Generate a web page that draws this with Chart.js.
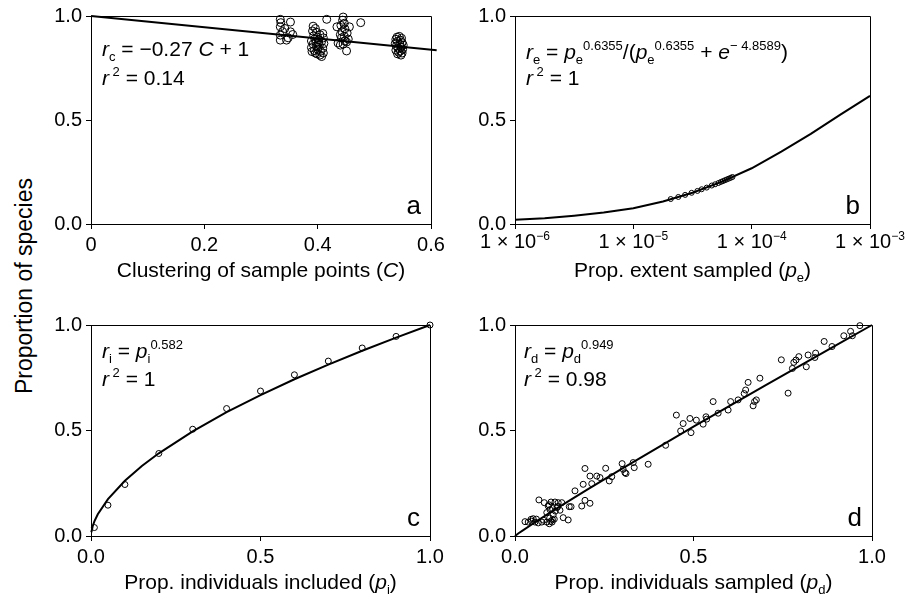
<!DOCTYPE html>
<html><head><meta charset="utf-8">
<script src="https://cdn.jsdelivr.net/npm/chart.js@4.4.1/dist/chart.umd.min.js"></script>
<style>
html,body{margin:0;padding:0;background:#fff;width:907px;height:607px;overflow:hidden;}
canvas{position:absolute;display:block;}
#ytitle{position:absolute;left:24px;top:286px;transform:translate(-50%,-50%) rotate(-90deg);font:23px "Liberation Sans",Arial,Helvetica,sans-serif;white-space:nowrap;color:#000;}
</style></head><body>
<canvas id="ca" width="420" height="300" style="left:40px;top:0px"></canvas>
<canvas id="cb" width="447" height="300" style="left:460px;top:0px"></canvas>
<canvas id="cc" width="420" height="307" style="left:40px;top:300px"></canvas>
<canvas id="cd" width="447" height="307" style="left:460px;top:300px"></canvas>
<div id="ytitle">Proportion of species</div>
<script>
// ---------- tick labels ----------
const yTicks = [0, 0.5, 1];
const aTicks = [0, 0.2, 0.4, 0.6];
const bTicks = [1e-6, 1e-5, 1e-4, 1e-3];
const bTickExp = ['−6', '−5', '−4', '−3'];
const cdTicks = [0, 0.5, 1];

// ---------- panel a: clustering ----------
const aClust = [0.334,0.335,0.352,0.334,0.342,0.352,0.356,0.334,0.334,0.345,0.348,0.338,
 0.392,0.396,0.391,0.398,0.409,0.404,0.393,0.400,0.410,0.395,0.402,0.389,0.407,0.397,0.411,0.392,0.403,0.398,0.389,0.409,0.400,0.394,0.405,0.390,0.410,0.399,0.404,0.407,0.396,0.401,
 0.416,0.476,0.445,0.444,0.447,0.434,0.456,0.441,0.448,0.443,0.452,0.440,0.447,0.454,0.442,0.448,0.436,0.445,0.451,0.451,0.440,
 0.540,0.544,0.548,0.538,0.546,0.541,0.549,0.537,0.545,0.551,0.539,0.547,0.542,0.550,0.538,0.546,0.543,0.549,0.541,0.547];
const aProp = [0.984,0.968,0.971,0.948,0.940,0.924,0.911,0.908,0.884,0.884,0.895,0.925,
 0.951,0.940,0.928,0.922,0.916,0.910,0.905,0.898,0.895,0.890,0.885,0.880,0.878,0.872,0.868,0.865,0.860,0.853,0.848,0.845,0.840,0.834,0.830,0.829,0.822,0.818,0.812,0.805,0.822,0.870,
 0.984,0.968,0.995,0.980,0.965,0.948,0.948,0.955,0.938,0.925,0.918,0.910,0.902,0.889,0.895,0.880,0.870,0.865,0.875,0.832,0.860,
 0.898,0.902,0.893,0.888,0.884,0.878,0.872,0.868,0.864,0.860,0.856,0.850,0.845,0.840,0.836,0.832,0.826,0.822,0.818,0.812];
const aLineC = [0, 0.61];
const aLineR = [1, 0.835];

// ---------- panel b: extent ----------
const bExtent = [2.07e-5,2.40e-5,2.74e-5,3.11e-5,3.48e-5,3.78e-5,4.17e-5,4.60e-5,4.91e-5,5.24e-5,5.48e-5,5.70e-5,5.92e-5,6.15e-5,6.40e-5,6.65e-5,6.88e-5];
const bProp = [0.120,0.130,0.140,0.150,0.159,0.167,0.175,0.185,0.191,0.197,0.202,0.206,0.210,0.214,0.218,0.222,0.226];
const bCurveP = [1e-6,1.78e-6,3.16e-6,5.62e-6,1e-5,1.78e-5,3.16e-5,5.62e-5,1e-4,1.78e-4,3.16e-4,5.62e-4,1e-3];
const bCurveR = [0.020,0.028,0.040,0.055,0.076,0.108,0.150,0.204,0.268,0.348,0.433,0.526,0.616];

// ---------- panel c: individuals included ----------
const cIncl = [0.01,0.05,0.1,0.2,0.3,0.4,0.5,0.6,0.7,0.8,0.9,1.0];
const cProp = [0.040,0.146,0.244,0.391,0.506,0.604,0.687,0.764,0.829,0.891,0.946,1.0];
const cCurveP = [0.001,0.005,0.01,0.02,0.05,0.1,0.15,0.2,0.3,0.4,0.5,0.6,0.7,0.8,0.9,1.0];
const cCurveR = [0.018,0.046,0.069,0.103,0.175,0.262,0.332,0.392,0.496,0.587,0.668,0.743,0.812,0.878,0.940,1.0];

// ---------- panel d: individuals sampled ----------
const dPoints = [
 [0.028,0.068],[0.037,0.066],[0.045,0.079],[0.046,0.070],[0.051,0.082],[0.056,0.066],[0.060,0.080],[0.065,0.062],[0.075,0.066],[0.080,0.075],
 [0.089,0.066],[0.096,0.058],[0.097,0.085],[0.100,0.070],[0.104,0.066],[0.105,0.077],[0.110,0.080],[0.107,0.100],[0.089,0.111],[0.113,0.118],
 [0.126,0.122],[0.135,0.087],[0.149,0.076],[0.093,0.142],[0.098,0.125],[0.105,0.130],[0.095,0.148],[0.118,0.135],[0.120,0.140],[0.067,0.171],
 [0.082,0.158],[0.101,0.161],[0.112,0.161],[0.121,0.158],[0.131,0.158],[0.152,0.139],[0.157,0.139],[0.187,0.142],[0.196,0.169],[0.210,0.155],
 [0.168,0.214],[0.191,0.245],[0.215,0.248],[0.196,0.320],[0.210,0.284],[0.229,0.284],[0.238,0.277],[0.254,0.321],[0.264,0.261],[0.271,0.281],
 [0.300,0.343],[0.303,0.316],[0.308,0.300],[0.311,0.296],[0.331,0.348],[0.334,0.324],[0.373,0.340],[0.422,0.430],
 [0.452,0.573],[0.471,0.533],[0.464,0.498],[0.490,0.557],[0.493,0.490],[0.508,0.549],[0.527,0.530],[0.535,0.565],[0.537,0.554],[0.555,0.637],
 [0.569,0.582],[0.597,0.597],[0.604,0.637],[0.625,0.645],[0.642,0.675],[0.646,0.692],[0.653,0.728],[0.667,0.617],[0.671,0.637],[0.676,0.645],
 [0.686,0.748],[0.746,0.835],[0.765,0.677],[0.777,0.794],[0.781,0.823],[0.787,0.834],[0.795,0.850],[0.816,0.802],[0.821,0.858],[0.840,0.846],
 [0.842,0.867],[0.866,0.922],[0.888,0.898],[0.921,0.949],[0.940,0.970],[0.945,0.949],[0.966,0.997]];
const dCurveP = [0,0.01,0.02,0.05,0.1,0.2,0.3,0.4,0.5,0.6,0.7,0.8,0.9,1.0];
const dCurveR = [0,0.013,0.024,0.058,0.113,0.217,0.319,0.419,0.518,0.616,0.713,0.809,0.905,1.0];

// ---------- drawing helpers ----------
const FONT = '"Liberation Sans", Arial, Helvetica, sans-serif';
const zip = (xs, ys) => xs.map((x, i) => ({x: x, y: ys[i]}));

function drawRuns(ctx, runs, x, y, base, align) {
  const parts = runs.map(r => {
    const size = (r.sub || r.sup) ? Math.round(base * 0.6) : base;
    const font = (r.i ? 'italic ' : '') + size + 'px ' + FONT;
    ctx.font = font;
    return {t: r.t, font: font, w: ctx.measureText(r.t).width,
            dy: r.sub ? base * 0.24 : (r.sup ? -base * 0.42 : 0)};
  });
  const total = parts.reduce((s, p) => s + p.w, 0);
  let cx = align === 'center' ? x - total / 2 : x;
  ctx.textAlign = 'left';
  ctx.textBaseline = 'alphabetic';
  parts.forEach(p => { ctx.font = p.font; ctx.fillText(p.t, cx, y + p.dy); cx += p.w; });
}

const annot = {
  id: 'annot',
  afterDraw(chart, args, o) {
    const ctx = chart.ctx, ca = chart.chartArea;
    ctx.save();
    ctx.strokeStyle = '#000'; ctx.lineWidth = 1;
    const L = Math.floor(ca.left) + 0.5, T = Math.floor(ca.top) + 0.5,
          R = Math.floor(ca.right) + 0.5, B = Math.floor(ca.bottom) + 0.5;
    ctx.beginPath(); ctx.moveTo(L, T); ctx.lineTo(R, T); ctx.lineTo(R, B); ctx.stroke();
    ctx.fillStyle = '#000';
    drawRuns(ctx, o.eq1, ca.left + o.ex, ca.top + o.ey1, 21, 'left');
    drawRuns(ctx, o.eq2, ca.left + o.ex, ca.top + o.ey2, 21, 'left');
    ctx.font = '26px ' + FONT; ctx.textAlign = 'right'; ctx.textBaseline = 'alphabetic';
    ctx.fillText(o.letter, ca.right - 10, ca.bottom - 10);
    drawRuns(ctx, o.xtitle, (ca.left + ca.right) / 2, ca.bottom + 53, 21, 'center');
    if (o.logTicks) {
      const xs = chart.scales.x;
      bTicks.forEach((v, i) => drawRuns(ctx, [{t: '1 × 10'}, {t: bTickExp[i], sup: 1}],
        xs.getPixelForValue(v), ca.bottom + 24, 20, 'center'));
    }
    ctx.restore();
  }
};

function axisCommon() {
  return {
    grid: {display: true, drawOnChartArea: false, drawTicks: true, tickLength: 5, color: '#000', lineWidth: 1},
    border: {display: true, color: '#000', width: 1}
  };
}

function makeChart(id, p) {
  const x = Object.assign(axisCommon(), {
    type: p.xType, min: p.xmin, max: p.xmax, position: 'bottom',
    afterBuildTicks: s => { s.ticks = p.xTicks.map(v => ({value: v})); },
    afterFit: s => { s.height = p.xh; },
    ticks: {display: p.xLabels, color: '#000', font: {family: FONT, size: 20}, padding: 4,
            maxRotation: 0, autoSkip: false, callback: p.xFmt}
  });
  const y = Object.assign(axisCommon(), {
    type: 'linear', min: 0, max: 1, position: 'left',
    afterBuildTicks: s => { s.ticks = yTicks.map(v => ({value: v})); },
    afterFit: s => { s.width = p.yw; },
    ticks: {color: '#000', font: {family: FONT, size: 20}, padding: 4, callback: v => v.toFixed(1)}
  });
  return new Chart(document.getElementById(id), {
    type: 'scatter',
    data: {datasets: [
      {data: p.curve, showLine: true, borderColor: '#000', borderWidth: 2, pointRadius: 0,
       fill: false, tension: 0, clip: false, order: 1},
      {data: p.points, showLine: false, pointStyle: 'circle', pointRadius: p.r,
       pointBorderColor: '#000', pointBorderWidth: 1, pointBackgroundColor: 'rgba(255,255,255,0)',
       clip: false, order: 2}
    ]},
    options: {
      responsive: false, animation: false, devicePixelRatio: 1,
      layout: {padding: {top: p.pt, right: p.pr, left: 0, bottom: 0}},
      scales: {x: x, y: y},
      plugins: {legend: {display: false}, tooltip: {enabled: false}, annot: p.annot}
    },
    plugins: [annot]
  });
}

makeChart('ca', {
  xType: 'linear', xmin: 0, xmax: 0.6, xTicks: aTicks, xLabels: true,
  xFmt: v => v === 0 ? '0' : v.toFixed(1), xh: 76, yw: 51, pt: 14, pr: 29, r: 4,
  curve: zip(aLineC, aLineR), points: zip(aClust, aProp),
  annot: {ex: 11, ey1: 40, ey2: 69, letter: 'a',
    eq1: [{t: 'r', i: 1}, {t: 'c', sub: 1}, {t: ' = −0.27 '}, {t: 'C', i: 1}, {t: ' + 1'}],
    eq2: [{t: 'r', i: 1}, {t: ' 2', sup: 1}, {t: ' = 0.14'}],
    xtitle: [{t: 'Clustering of sample points ('}, {t: 'C', i: 1}, {t: ')'}]}
});

makeChart('cb', {
  xType: 'logarithmic', xmin: 1e-6, xmax: 1e-3, xTicks: bTicks, xLabels: false,
  xFmt: v => '', xh: 76, yw: 55, pt: 14, pr: 37, r: 2.5,
  curve: zip(bCurveP, bCurveR), points: zip(bExtent, bProp),
  annot: {ex: 11, ey1: 43, ey2: 69, letter: 'b', logTicks: true,
    eq1: [{t: 'r', i: 1}, {t: 'e', sub: 1}, {t: ' = '}, {t: 'p', i: 1}, {t: 'e', sub: 1}, {t: '0.6355', sup: 1},
          {t: '/('}, {t: 'p', i: 1}, {t: 'e', sub: 1}, {t: '0.6355', sup: 1}, {t: ' + '}, {t: 'e', i: 1},
          {t: '− 4.8589', sup: 1}, {t: ')'}],
    eq2: [{t: 'r', i: 1}, {t: ' 2', sup: 1}, {t: ' = 1'}],
    xtitle: [{t: 'Prop. extent sampled ('}, {t: 'p', i: 1}, {t: 'e', sub: 1}, {t: ')'}]}
});

makeChart('cc', {
  xType: 'linear', xmin: 0, xmax: 1, xTicks: cdTicks, xLabels: true,
  xFmt: v => v.toFixed(1), xh: 71, yw: 51, pt: 25, pr: 30, r: 3,
  curve: zip(cCurveP, cCurveR), points: zip(cIncl, cProp),
  annot: {ex: 11, ey1: 33, ey2: 61, letter: 'c',
    eq1: [{t: 'r', i: 1}, {t: 'i', sub: 1}, {t: ' = '}, {t: 'p', i: 1}, {t: 'i', sub: 1}, {t: '0.582', sup: 1}],
    eq2: [{t: 'r', i: 1}, {t: ' 2', sup: 1}, {t: ' = 1'}],
    xtitle: [{t: 'Prop. individuals included ('}, {t: 'p', i: 1}, {t: 'i', sub: 1}, {t: ')'}]}
});

makeChart('cd', {
  xType: 'linear', xmin: 0, xmax: 1, xTicks: cdTicks, xLabels: true,
  xFmt: v => v.toFixed(1), xh: 71, yw: 55, pt: 25, pr: 35, r: 3,
  curve: zip(dCurveP, dCurveR), points: dPoints.map(d => ({x: d[0], y: d[1]})),
  annot: {ex: 9, ey1: 33, ey2: 61, letter: 'd',
    eq1: [{t: 'r', i: 1}, {t: 'd', sub: 1}, {t: ' = '}, {t: 'p', i: 1}, {t: 'd', sub: 1}, {t: '0.949', sup: 1}],
    eq2: [{t: 'r', i: 1}, {t: ' 2', sup: 1}, {t: ' = 0.98'}],
    xtitle: [{t: 'Prop. individuals sampled ('}, {t: 'p', i: 1}, {t: 'd', sub: 1}, {t: ')'}]}
});
</script>
</body></html>
